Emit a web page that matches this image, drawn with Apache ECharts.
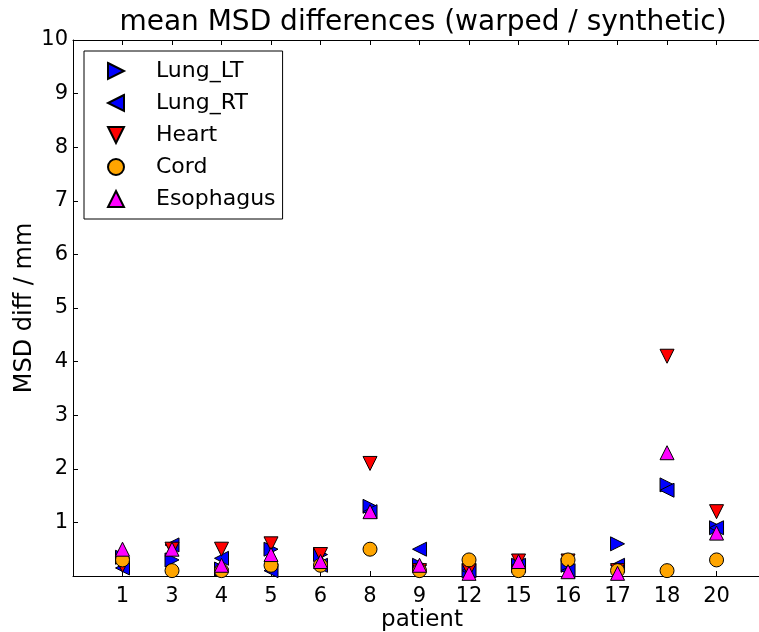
<!DOCTYPE html>
<html><head><meta charset="utf-8">
<script src="https://cdn.jsdelivr.net/npm/echarts@6/dist/echarts.min.js"></script>
<style>html,body{margin:0;padding:0;background:#fff;overflow:hidden}#c{width:759px;height:632px}</style>
</head><body><div id="c"></div>
<script>
const patients = ['1','3','4','5','6','8','9','12','15','16','17','18','20'];
const lungLT   = [0.35,0.3,0.13,0.5,0.4,1.3,0.2,0.1,0.2,0.2,0.6,1.7,0.9];
const lungRT   = [0.15,0.58,0.33,0.1,0.2,1.2,0.5,0.1,0.2,0.1,0.2,1.6,0.9];
const heart    = [0.2,0.5,0.5,0.6,0.4,2.1,0.1,0.1,0.28,0.28,0.1,4.1,1.2];
const cord     = [0.3,0.1,0.1,0.2,0.2,0.5,0.1,0.3,0.1,0.3,0.1,0.1,0.3];
const esophagus= [0.5,0.5,0.2,0.4,0.27,1.2,0.2,0.05,0.27,0.08,0.05,2.3,0.8];
const yTicks = [1,2,3,4,5,6,7,8,9,10];

const FONT = 'DejaVu Sans';
const ICON_RIGHT = 'path://M0,0L10,5L0,10Z';
const ICON_LEFT = 'path://M10,0L0,5L10,10Z';
const ICON_DOWN = 'path://M0,0L10,0L5,10Z';
const pts = arr => arr.map((v,i)=>[i+1, v]);
const mk = (name, data, symbol, color) => ({
  name, type:'scatter', data: pts(data), symbol, symbolSize: 14,
  itemStyle:{color, borderColor:'#000', borderWidth:1, opacity:1},
  emphasis:{disabled:true}, animation:false
});
const chart = echarts.init(document.getElementById('c'), null, {renderer:'canvas'});
const xLab = v => (v>=1 && v<=patients.length && Number.isInteger(v)) ? patients[v-1] : '';
const xTicks = patients.map((p,i)=>i+1);
const X_MAX = 14.1;
chart.setOption({
  backgroundColor:'#fff',
  animation:false,
  title:{text:'mean MSD differences (warped / synthetic)', left:418, top:4, textAlign:'center',
    textStyle:{fontFamily:FONT, fontSize:28, fontWeight:'normal', color:'#000'}},
  grid:{left:73, top:40, width:698, height:536, right:null, outerBoundsMode:'none', containLabel:false},
  legend:{orient:'vertical', left:84, top:51, padding:[9,7,9,23], itemGap:10, itemWidth:16, itemHeight:16,
    borderColor:'#000', borderWidth:1, backgroundColor:'#fff', borderRadius:0,
    textStyle:{fontFamily:FONT, fontSize:22, color:'#000', padding:[0,0,0,27]},
    data:[{name:'Lung_LT', icon:ICON_RIGHT},{name:'Lung_RT', icon:ICON_LEFT},
          {name:'Heart', icon:ICON_DOWN},{name:'Cord', icon:'circle'},{name:'Esophagus', icon:'triangle'}]},
  graphic:[{type:'rect', right:0, top:42, shape:{width:5, height:532}, style:{fill:'#fff'}, z:100, silent:true}],
  xAxis:[{type:'value', min:0, max:X_MAX, interval:1, position:'bottom',
    name:'patient', nameLocation:'middle', nameGap:33, nameMoveOverlap:false,
    nameTextStyle:{fontFamily:FONT, fontSize:23, color:'#000'},
    axisLine:{lineStyle:{color:'#000', width:1}},
    axisTick:{inside:true, length:5, lineStyle:{color:'#000'}, customValues: xTicks},
    axisLabel:{fontFamily:FONT, fontSize:21, color:'#000', margin:10, formatter: xLab, customValues: xTicks},
    splitLine:{show:false}},
   {type:'value', min:0, max:X_MAX, interval:1, position:'top',
    axisLine:{lineStyle:{color:'#000', width:1}},
    axisTick:{inside:true, length:5, lineStyle:{color:'#000'}, customValues: xTicks},
    axisLabel:{show:false}, splitLine:{show:false}}],
  yAxis:{type:'value', min:0, max:10, interval:1,
    name:'MSD diff / mm', nameLocation:'middle', nameGap:36, nameMoveOverlap:false,
    nameTextStyle:{fontFamily:FONT, fontSize:24, color:'#000'},
    axisLine:{lineStyle:{color:'#000', width:1}},
    axisTick:{inside:true, length:5, lineStyle:{color:'#000'}, customValues: yTicks},
    axisLabel:{fontFamily:FONT, fontSize:21, color:'#000', margin:5, customValues: yTicks},
    splitLine:{show:false}},
  series:[
    mk('Lung_LT', lungLT, ICON_RIGHT, '#0000ff'),
    mk('Lung_RT', lungRT, ICON_LEFT, '#0000ff'),
    mk('Heart', heart, ICON_DOWN, '#ff0000'),
    mk('Cord', cord, 'circle', '#ffa500'),
    mk('Esophagus', esophagus, 'triangle', '#ff00ff')
  ]
});
</script></body></html>
